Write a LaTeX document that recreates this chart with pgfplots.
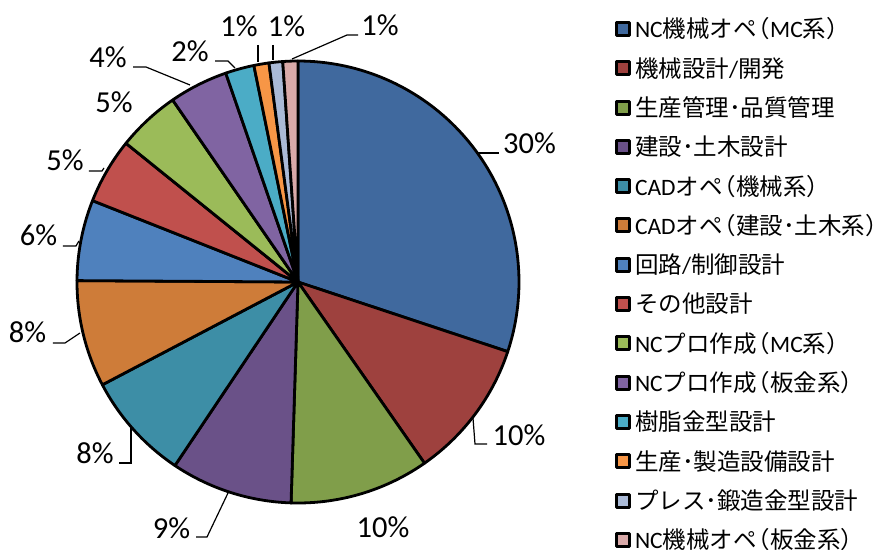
\documentclass[border=0pt]{standalone}
\usepackage{fontspec}
\setmainfont{Carlito}
\newfontfamily\cjk{Noto Sans CJK JP}
\usepackage{pgfplots}
\pgfplotsset{compat=1.18}
\definecolor{c1}{RGB}{64,105,158}
\definecolor{c2}{RGB}{158,65,62}
\definecolor{c3}{RGB}{128,158,74}
\definecolor{c4}{RGB}{106,81,136}
\definecolor{c5}{RGB}{61,142,166}
\definecolor{c6}{RGB}{206,124,57}
\definecolor{c7}{RGB}{79,129,189}
\definecolor{c8}{RGB}{192,80,77}
\definecolor{c9}{RGB}{155,187,89}
\definecolor{c10}{RGB}{128,100,162}
\definecolor{c11}{RGB}{75,172,198}
\definecolor{c12}{RGB}{247,150,70}
\definecolor{c13}{RGB}{170,186,215}
\definecolor{c14}{RGB}{217,170,169}
\newcommand\lbl{\fontsize{30.5}{36}\selectfont}
\newcommand\lp{\kern-10pt{\cjk （}}
\newcommand\rp{{\cjk ）}\kern-10pt}
\begin{document}
\begin{tikzpicture}
\useasboundingbox (-77pt,-46pt) rectangle (798pt,503pt);
\begin{axis}[
  scale only axis, width=442pt, height=442pt,
  xmin=-1, xmax=1, ymin=-1, ymax=1,
  hide axis, clip=false,
  legend cell align=left,
  legend entries={
    NC{\cjk 機械オペ}\lp MC{\cjk 系}\rp,
    {\cjk 機械設計}/{\cjk 開発},
    {\cjk 生産管理･品質管理},
    {\cjk 建設･土木設計},
    CAD{\cjk オペ}\lp{\cjk 機械系}\rp,
    CAD{\cjk オペ}\lp{\cjk 建設･土木系}\rp,
    {\cjk 回路}/{\cjk 制御設計},
    {\cjk その他設計},
    NC{\cjk プロ作成}\lp MC{\cjk 系}\rp,
    NC{\cjk プロ作成}\lp{\cjk 板金系}\rp,
    {\cjk 樹脂金型設計},
    {\cjk 生産･製造設備設計},
    {\cjk プレス･鍛造金型設計},
    NC{\cjk 機械オペ}\lp{\cjk 板金系}\rp},
  legend style={at={(axis cs:1.4344,1.2032)}, anchor=north west,
    draw=none, fill=none, inner sep=0pt, outer sep=0pt,
    row sep=13.5pt, column sep=4pt,
    font=\fontsize{23.5}{28}\selectfont,
    nodes={inner sep=0pt, outer sep=0pt, text height=21.8pt, text depth=4pt}},
  legend image code/.code={\draw[#1,draw=black,line width=3pt] (0pt,-6.5pt) rectangle (13pt,6.5pt);}
]
\gdef\cum{0}
\foreach \v/\col in {30.1/c1,10.2/c2,10.2/c3,8.9/c4,7.9/c5,7.8/c6,5.9/c7,4.8/c8,4.6/c9,4.3/c10,2.1/c11,1.1/c12,1.0/c13,1.1/c14}{
  \pgfmathsetmacro\a{90-3.6*\cum}
  \pgfmathsetmacro\b{90-3.6*(\cum+\v)}
  \edef\doplot{\noexpand\addplot[fill=\col, draw=black, line width=2.8pt, line join=round, domain=\b:\a, samples=80] ({cos(x)},{sin(x)}) -- (axis cs:0,0) -- cycle;}
  \doplot
  \pgfmathsetmacro\newcum{\cum+\v}
  \global\let\cum\newcum
}
\end{axis}
\begin{scope}[x=1pt,y=-1pt,shift={(-77pt,503pt)}]
\begin{scope}[line width=1.2pt]
\draw (478,153)--(499,153);
\draw (473,418)--(475,444)--(487,444);
\draw (228,493)--(207,537)--(196,537);
\draw (131,427)--(131,463)--(119,463);
\draw (80,333)--(65,343)--(53,343);
\draw (79,241)--(76,246)--(63,246);
\draw (104,168)--(102,171)--(89,171);
\draw (190,85)--(146,67)--(133,67);
\draw (235,68)--(228,61)--(215,61);
\draw (258,45)--(258,62);
\draw (273,45)--(273,60);
\draw (292,59)--(347,35)--(358,35);
\end{scope}
\begin{scope}[every node/.style={anchor=base, font=\lbl, inner sep=0pt}]
\node at (529.5,154) {30\%};
\node at (519,445) {10\%};
\node at (383,537) {10\%};
\node at (171.5,538) {9\%};
\node at (95,463) {8\%};
\node at (27.5,343) {8\%};
\node at (38.5,246) {6\%};
\node at (65,171) {5\%};
\node at (114,113) {5\%};
\node at (108,68) {4\%};
\node at (190,62) {2\%};
\node at (239,37) {1\%};
\node at (286.5,37) {1\%};
\node at (380,36) {1\%};
\end{scope}
\end{scope}
\end{tikzpicture}
\end{document}
